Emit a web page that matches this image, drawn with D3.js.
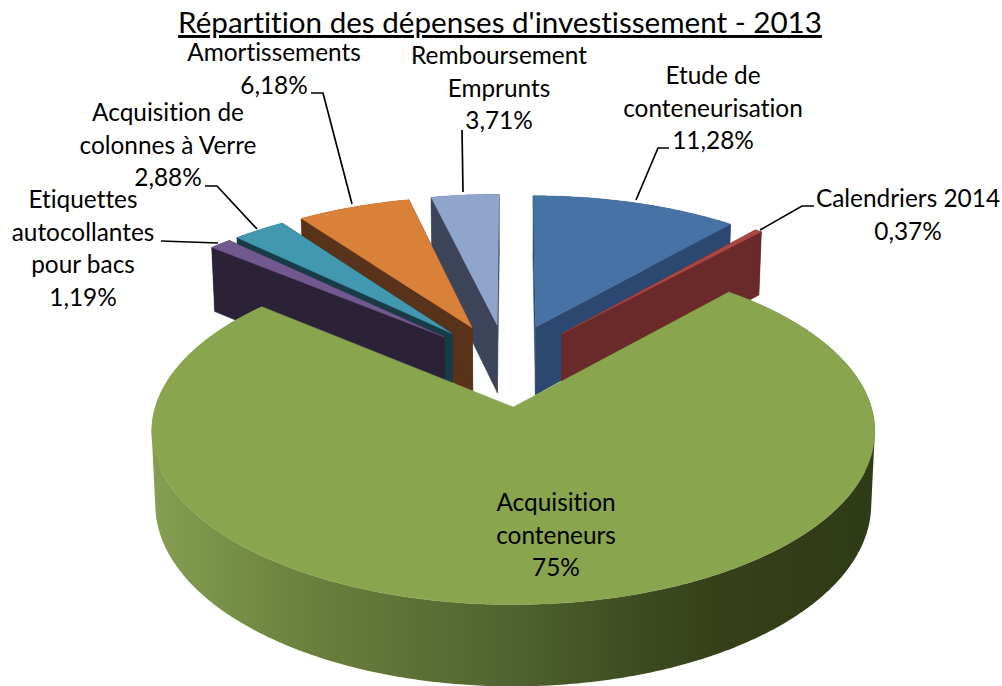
<!DOCTYPE html>
<html><head><meta charset="utf-8">
<script src="https://cdn.jsdelivr.net/npm/d3@7"></script>
<style>html,body{margin:0;padding:0;background:#fff}svg{display:block}text{font-family:Lato,"Open Sans",sans-serif;fill:#000;font-variant-ligatures:none;font-feature-settings:"liga" 0}</style>
</head><body><svg id="c" width="1002" height="686"></svg>
<script>
const categories = ["Etude de conteneurisation","Calendriers 2014","Acquisition conteneurs","Etiquettes autocollantes pour bacs","Acquisition de colonnes à Verre","Amortissements","Remboursement Emprunts"];
const values = [11.28,0.37,75,1.19,2.88,6.18,3.71];
const valueLabels = ["11,28%","0,37%","75%","1,19%","2,88%","6,18%","3,71%"];
const topColors = ["#4672a6","#aa4643","#89a54e","#71588f","#4298af","#d98039","#90a5cc"];
const wallColors = ["#2c4870","#6a2a2a","#556a30","#2c2238","#193b47","#58331a","#3b4458"];
const drawOrder = [0,1,6,5,4,3,2];
const labelLines = [["Etude de","conteneurisation","11,28%"],["Calendriers 2014","0,37%"],["Acquisition","conteneurs","75%"],["Etiquettes","autocollantes","pour bacs","1,19%"],["Acquisition de","colonnes à Verre","2,88%"],["Amortissements","6,18%"],["Remboursement","Emprunts","3,71%"]];
// layout
const labelAnchors = [[713,84],[908,207],[556,511],[83,208],[168,121],[274,61],[499,64]];
const leaders = [[[669,148],[658,148],[636,200]],[[814,206],[802,206],[760,230]],null,[[161,241],[218,243]],[[205,186],[217,186],[257,229]],[[311,93],[323,93],[352,204]],[[462,130],[463,192]]];

const svg = d3.select("#c");
const P = 0.14, EXPL = 0.25, GREEN_EXPL = 0.27, DEPTH = 72/170, K = 0.99;
const x = d3.scaleLinear().domain([-1,1]).range([514-358,514+358]);
const y = d3.scaleLinear().domain([-1,1]).range([407+170,407-170]);
const O = [-0.0215,0.2695];
function project(u,v,z){ // z=0 top, 1 bottom
  const s = 1/(1+P*v), k = z? K:1;
  return [x(u*s*k), y(v*s*k - (z? DEPTH*s:0))];
}
const arcs = d3.pie().value(d=>d).sort(null).startAngle(0).endAngle(2*Math.PI)(values);
const line = d3.line();
const defs = svg.append("defs");
const grad = defs.append("linearGradient").attr("id","gs").attr("gradientUnits","userSpaceOnUse").attr("x1",150).attr("x2",875).attr("y1",0).attr("y2",0);
[[0,"#84a052"],[0.2,"#6c823e"],[0.48,"#526530"],[0.68,"#3d4b21"],[0.78,"#364019"],[1,"#2f3a17"]].forEach(([o,c])=>grad.append("stop").attr("offset",o).attr("stop-color",c));

drawOrder.forEach(i=>{
  const a = arcs[i], mid=(a.startAngle+a.endAngle)/2, e = i===2?GREEN_EXPL:EXPL;
  const cu = O[0]+e*Math.sin(mid), cv = O[1]+e*Math.cos(mid);
  const n = Math.max(2,Math.ceil((a.endAngle-a.startAngle)/0.01));
  const angs = d3.range(n+1).map(j=>a.startAngle+(a.endAngle-a.startAngle)*j/n);
  const pt = (t,z)=>project(cu+Math.sin(t),cv+Math.cos(t),z);
  const g = svg.append("g");
  const wall = [[pt(a.startAngle,0),project(cu,cv,0),project(cu,cv,1),pt(a.startAngle,1)],
                [pt(a.endAngle,0),project(cu,cv,0),project(cu,cv,1),pt(a.endAngle,1)]];
  if(i!==2) wall.forEach(w=>g.append("path").attr("d",line(w)+"Z").attr("fill",wallColors[i]).attr("stroke",wallColors[i]).attr("stroke-width",0.5));
  const fill = i===2?"url(#gs)":wallColors[i];
  const quads = d3.pairs(angs).map(([t0,t1])=>{
    const q=[pt(t0,0),pt(t1,0),pt(t1,1),pt(t0,1)];
    return d3.polygonArea(q)<0 ? q.reverse() : q;
  });
  g.append("path").attr("d",quads.map(q=>line(q)+"Z").join("")).attr("fill",fill);
  const top = [project(cu,cv,0)].concat(angs.map(t=>pt(t,0)));
  g.append("path").attr("d",line(top)+"Z").attr("fill",topColors[i]).attr("stroke",topColors[i]).attr("stroke-width",0.4);
});

leaders.forEach(l=>{ if(l) svg.append("path").attr("d",line(l)).attr("fill","none").attr("stroke","#000").attr("stroke-width",1.7); });

labelLines.forEach((ls,i)=>{
  ls.forEach((t,j)=>svg.append("text").attr("x",labelAnchors[i][0]).attr("y",labelAnchors[i][1]+j*32.7).attr("text-anchor","middle").attr("font-size",24.4).text(t));
});
svg.append("text").attr("x",500).attr("y",33).attr("text-anchor","middle").attr("font-size",29.6).style("text-decoration","underline").text("Répartition des dépenses d'investissement - 2013");
</script></body></html>
